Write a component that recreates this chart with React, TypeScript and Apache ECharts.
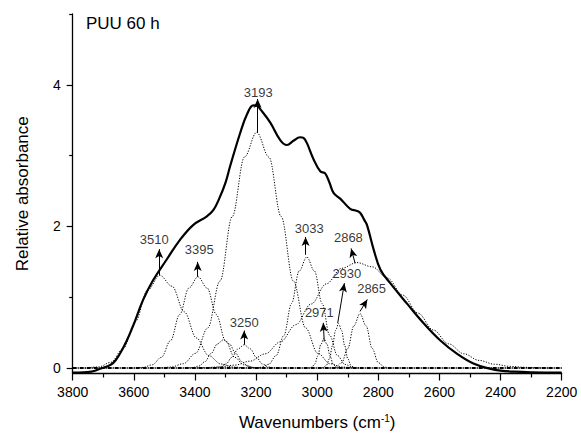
import React, { useEffect, useRef } from "react";
import * as echarts from "echarts";

const FONT = "'Liberation Sans', Arial, Helvetica, sans-serif";

// Measured spectrum (solid line): [wavenumber, absorbance]
const measured: [number, number][] = [
  [3800, -0.062], [3780, -0.062], [3750, -0.055], [3730, -0.04], [3711, -0.01],
  [3690, 0.02], [3668, 0.07], [3646, 0.2], [3624, 0.38], [3602, 0.6],
  [3570, 0.96], [3537, 1.24], [3493, 1.53], [3449, 1.81], [3406, 2.02],
  [3362, 2.14], [3340, 2.23], [3320, 2.4], [3300, 2.62], [3285, 2.85],
  [3252, 3.32], [3230, 3.58], [3209, 3.71], [3195, 3.7], [3187, 3.66],
  [3154, 3.47], [3121, 3.22], [3099, 3.15], [3078, 3.21], [3056, 3.26],
  [3045, 3.25], [3034, 3.18], [3012, 2.95], [2990, 2.78], [2974, 2.75],
  [2960, 2.62], [2946, 2.47], [2924, 2.39], [2892, 2.25], [2870, 2.22],
  [2859, 2.19], [2847, 2.1], [2837, 2.02], [2815, 1.67], [2793, 1.39],
  [2761, 1.2], [2706, 0.91], [2651, 0.63], [2597, 0.39], [2542, 0.2],
  [2487, 0.06], [2433, -0.01], [2400, -0.035], [2356, -0.05], [2300, -0.058],
  [2200, -0.062],
];

// Fitted component bands (dotted lines)
const band3510: [number, number][] = [
  [3760, 0], [3715, 0.017], [3675, 0.082], [3635, 0.276], [3595, 0.656], [3555, 1.1],
  [3515, 1.31], [3475, 1.156], [3435, 0.795], [3395, 0.425], [3355, 0.177],
  [3315, 0.058], [3275, 0.015], [3235, 0],
];
const band3395: [number, number][] = [
  [3600, 0], [3570, 0.01], [3540, 0.046], [3510, 0.152], [3480, 0.387], [3450, 0.756],
  [3420, 1.13], [3390, 1.29], [3360, 1.13], [3330, 0.756], [3300, 0.387],
  [3270, 0.152], [3240, 0.046], [3210, 0.01], [3180, 0],
];
const band3307: [number, number][] = [
  [3430, 0], [3407, 0.007], [3387, 0.029], [3367, 0.092], [3347, 0.208], [3327, 0.34],
  [3307, 0.4], [3287, 0.34], [3267, 0.208], [3247, 0.092], [3227, 0.029],
  [3207, 0.007], [3185, 0],
];
const band3250: [number, number][] = [
  [3360, 0], [3339, 0.003], [3319, 0.015], [3299, 0.057], [3279, 0.151], [3259, 0.272],
  [3239, 0.33], [3219, 0.272], [3199, 0.151], [3179, 0.057], [3159, 0.015],
  [3139, 0.003], [3120, 0],
];
const band3193: [number, number][] = [
  [3518, 0], [3478, 0.015], [3438, 0.062], [3398, 0.209], [3358, 0.567], [3318, 1.23],
  [3278, 2.14], [3238, 2.98], [3198, 3.33], [3158, 2.98], [3118, 2.14],
  [3078, 1.23], [3038, 0.567], [2998, 0.209], [2958, 0.062], [2918, 0.015], [2878, 0],
];
const band3033: [number, number][] = [
  [3205, 0], [3184, 0.012], [3159, 0.053], [3134, 0.179], [3109, 0.463], [3084, 0.912],
  [3059, 1.37], [3034, 1.57], [3009, 1.37], [2984, 0.912], [2959, 0.463],
  [2934, 0.179], [2909, 0.053], [2884, 0.012], [2860, 0],
];
const band2868: [number, number][] = [
  [3400, 0], [3370, 0.006], [3320, 0.017], [3270, 0.042], [3220, 0.098], [3170, 0.202],
  [3120, 0.372], [3070, 0.613], [3020, 0.904], [2970, 1.19], [2920, 1.41],
  [2870, 1.49], [2820, 1.43], [2770, 1.27], [2720, 1.03], [2670, 0.776],
  [2620, 0.538], [2570, 0.343], [2520, 0.202], [2470, 0.109], [2420, 0.055],
  [2370, 0.025], [2320, 0.011], [2270, 0.003], [2230, 0],
];
const band2971: [number, number][] = [
  [3030, 0], [3018, 0.012], [3008, 0.057], [2998, 0.173], [2988, 0.336], [2978, 0.42],
  [2968, 0.336], [2958, 0.173], [2948, 0.057], [2938, 0.012], [2926, 0],
];
const band2930: [number, number][] = [
  [2992, 0], [2980, 0.008], [2970, 0.04], [2960, 0.133], [2950, 0.316], [2940, 0.53],
  [2930, 0.63], [2920, 0.53], [2910, 0.316], [2900, 0.133], [2890, 0.04],
  [2880, 0.008], [2868, 0],
];
const band2865: [number, number][] = [
  [2960, 0], [2940, 0.013], [2920, 0.077], [2900, 0.277], [2880, 0.597], [2860, 0.77],
  [2840, 0.597], [2820, 0.277], [2800, 0.077], [2780, 0.013], [2760, 0],
];
const bands = [band3510, band3395, band3307, band3250, band3193, band3033, band2868, band2971, band2930, band2865];

const baseline: [number, number][] = [[3800, 0], [2200, 0]];

// Peak annotations: label, label position, arrow start, arrow tip
const peakNames = ["3510", "3395", "3250", "3193", "3033", "2868", "2930", "2971", "2865"];
const labelPos: [number, number][] = [
  [3533, 1.81], [3386, 1.68], [3239, 0.65], [3193, 3.89], [3026, 1.97],
  [2898, 1.845], [2903, 1.34], [2993, 0.79], [2822, 1.13],
];
const arrowFrom: [number, number][] = [
  [3517, 1.31], [3391, 1.29], [3239, 0.33], [3195, 3.32], [3038, 1.6],
  [2876, 1.48], [2933, 0.634], [2977, 0.375], [2860, 0.8],
];
const arrowTo: [number, number][] = [
  [3517, 1.68], [3391, 1.5], [3239, 0.53], [3195, 3.8], [3038, 1.85],
  [2889, 1.69], [2911, 1.2], [2980, 0.64], [2836, 0.97],
];

const xTicks = { min: 2200, max: 3800, interval: 200 };
const yMajor = [0, 2, 4];
const yMinor = [1, 3, 5];

export default function App() {
  const ref = useRef<HTMLDivElement>(null);
  useEffect(() => {
    if (!ref.current) return;
    const chart = echarts.init(ref.current, null, { renderer: "svg" });
    const yMin = -0.076;
    const yMax = 5;
    const option: any = {
      animation: false,
      backgroundColor: "#ffffff",
      title: {
        text: "PUU 60 h",
        left: 86,
        top: 15,
        padding: 0,
        textStyle: { fontFamily: FONT, fontSize: 17, fontWeight: "normal", color: "#000" },
      },
      grid: { left: 72.7, right: 19.3, top: 14, bottom: 63.5, containLabel: false },
      xAxis: {
        type: "value",
        inverse: true,
        min: xTicks.min,
        max: xTicks.max,
        interval: xTicks.interval,
        name: "{a|Wavenumbers (cm}{s|-1}{a|)}",
        nameLocation: "middle",
        nameGap: 40,
        nameTextStyle: {
          rich: {
            a: { fontFamily: FONT, fontSize: 17, color: "#000" },
            s: { fontFamily: FONT, fontSize: 10, color: "#000", verticalAlign: "top", padding: [0, 0, 6, 0] },
          },
        },
        axisLine: { show: true, onZero: false, lineStyle: { color: "#000", width: 1.3 } },
        axisTick: { show: true, inside: false, length: 7, lineStyle: { color: "#000", width: 1.2 } },
        minorTick: { show: true, splitNumber: 2, length: 4, lineStyle: { color: "#000", width: 1.2 } },
        axisLabel: {
          fontFamily: FONT, fontSize: 14, color: "#000", margin: 11,
          formatter: (v: number) => String(v),
        },
        splitLine: { show: false },
        minorSplitLine: { show: false },
      },
      yAxis: [
        {
          type: "value",
          min: yMin,
          max: yMax,
          name: "Relative absorbance",
          nameLocation: "middle",
          nameGap: 42,
          nameTextStyle: { fontFamily: FONT, fontSize: 17, color: "#000" },
          axisLine: { show: true, onZero: false, lineStyle: { color: "#000", width: 1.3 } },
          axisTick: { show: true, inside: false, length: 6, customValues: yMajor, lineStyle: { color: "#000", width: 1.2 } },
          axisLabel: { fontFamily: FONT, fontSize: 14, color: "#000", margin: 12, customValues: yMajor, formatter: (v: number) => String(v) },
          splitLine: { show: false },
        },
        {
          type: "value",
          min: yMin,
          max: yMax,
          position: "left",
          axisLine: { show: false },
          axisTick: { show: true, inside: false, length: 3.5, customValues: yMinor, lineStyle: { color: "#000", width: 1.2 } },
          axisLabel: { show: false },
          splitLine: { show: false },
        },
      ],
      series: [
        {
          type: "line",
          data: baseline,
          symbol: "none",
          lineStyle: { color: "#000", width: 2, type: [4, 1, 1, 1] },
          z: 1,
        },
        ...bands.map((b) => ({
          type: "line",
          data: b,
          symbol: "none",
          smooth: 0.35,
          smoothMonotone: "x",
          lineStyle: { color: "#000", width: 1, type: [1.2, 1.5] },
          z: 2,
        })),
        {
          type: "line",
          data: measured,
          symbol: "none",
          smooth: 0.4,
          lineStyle: { color: "#000", width: 2.2 },
          z: 5,
        },
        {
          type: "scatter",
          data: peakNames.map((n, i) => ({ name: n, value: labelPos[i] })),
          symbolSize: 0,
          label: {
            show: true,
            position: "inside",
            formatter: (p: any) => p.name,
            fontFamily: FONT,
            fontSize: 13,
            color: "#000",
          },
          z: 6,
          markLine: {
            silent: true,
            symbol: ["none", "arrow"],
            symbolSize: [6, 9],
            label: { show: false },
            lineStyle: { color: "#000", width: 1, type: "solid" },
            data: arrowFrom.map((f, i) => [{ coord: f }, { coord: arrowTo[i] }]),
          },
        },
      ],
    };
    chart.setOption(option);
    return () => chart.dispose();
  }, []);
  return (
    <div
      ref={ref}
      style={{ position: "fixed", left: 0, top: 0, width: 581, height: 437, background: "#fff" }}
    />
  );
}
